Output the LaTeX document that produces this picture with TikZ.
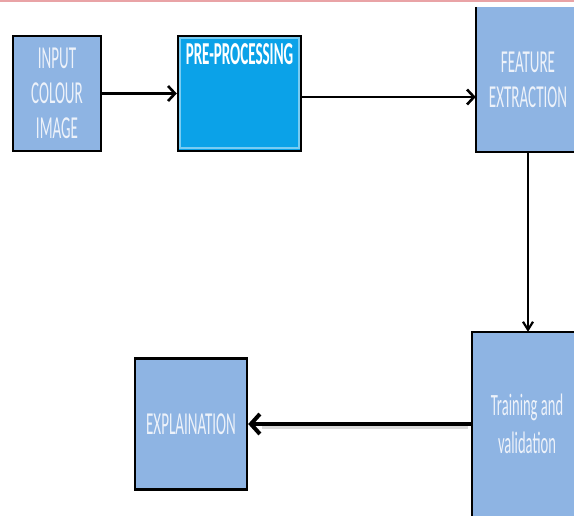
\documentclass[tikz,border=0pt]{standalone}
\usepackage{fontspec}
\newfontfamily\boxfont[FakeStretch=0.47]{Carlito}
\usetikzlibrary{arrows.meta,calc}
\definecolor{boxblue}{HTML}{8EB4E3}
\definecolor{ppblue}{HTML}{0BA2E8}
\definecolor{boxtext}{HTML}{EDF2FA}
\definecolor{topline}{HTML}{E9A3A6}
\tikzset{
	stage/.style={fill=boxblue, inner sep=0pt, align=center, text=boxtext,
		font=\boxfont\fontsize{32}{35}\selectfont},
	stageline/.style={black, line width=2.4pt},
	flow/.style={black, line width=2.6pt, -{Straight Barb[length=7pt,width=15pt]}},
}
\begin{document}
\begin{tikzpicture}[x=1pt,y=-1pt]
	\useasboundingbox (0,0) rectangle (574,515);
	\clip (0,0) rectangle (574,515);
		% stages
		\node[stage, draw=black, line width=2.4pt, minimum width=88pt, minimum height=115pt] (input) at (57,93.5) {INPUT\\COLOUR\\IMAGE};
		\node[stage, fill=ppblue, draw=black, line width=2.4pt, minimum width=123pt, minimum height=115pt,
			label={[anchor=north, yshift=-9pt, inner sep=0pt, text=white, font=\boxfont\bfseries\fontsize{32}{34}\selectfont]north:PRE-PROCESSING}] (pre) at (239.5,93.5) {};
		\draw [white!45!ppblue, line width=1.6pt] ($(pre.north west)+(3,3)$) rectangle ($(pre.south east)+(-3,-4)$);
		\node[stage, minimum width=104pt, minimum height=145pt] (feat) at (528,79.5) {FEATURE\\EXTRACTION};
		\draw [stageline] (feat.north west) -- (feat.south west) -- (feat.south east);
		\node[stage, minimum width=110pt, minimum height=184pt, font=\boxfont\fontsize{31}{38}\selectfont] (train) at (527,424) {Training and\\validation};
		\draw [stageline] (train.south west) -- (train.north west) -- (train.north east);
		\node[stage, draw=black, line width=2.4pt, minimum width=112pt, minimum height=131pt] (expl) at (191,424) {EXPLAINATION};
		% connectors
		\draw [flow] (input.east) -- (pre.west);
		\draw [flow] (pre.east |- 0,97) -- (feat.west |- 0,97);
		\draw [flow, line width=2.2pt, -{Straight Barb[length=8pt,width=10pt]}] (feat.south) -- (feat.south |- train.north);
		\draw [gray!30, line width=3pt] ($(train.west |- expl.east)+(-4,3)$) -- ($(expl.east)+(14,3)$);
		\draw [flow, line width=4pt, -{Straight Barb[length=9pt,width=20pt]}] (train.west |- expl.east) -- (expl.east);
		% top rule
		\draw [topline, line width=2pt] (0,1) -- (574,1);
\end{tikzpicture}
\end{document}
